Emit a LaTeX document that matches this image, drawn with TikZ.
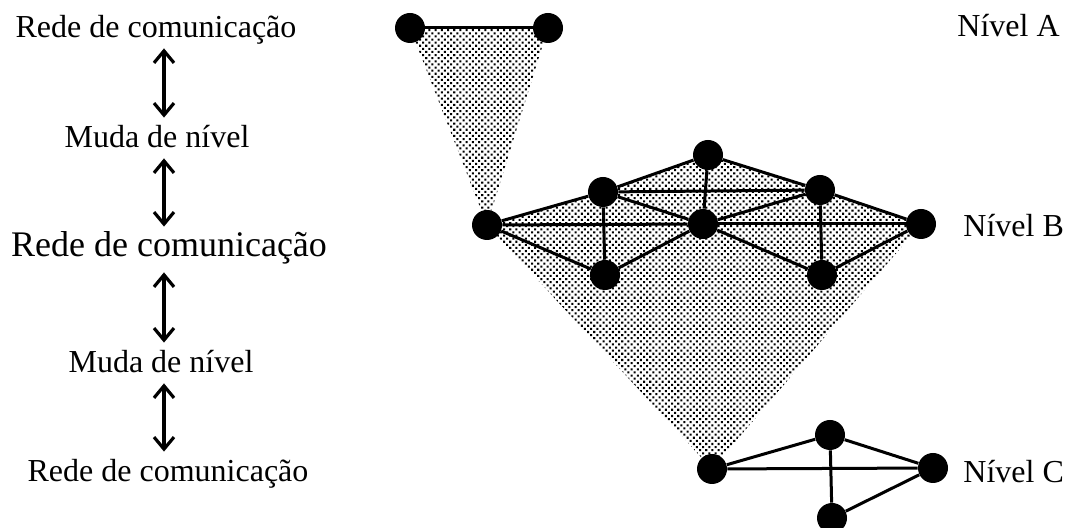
\documentclass[tikz,border=0pt]{standalone}
\usepackage{fontspec}
\setmainfont{Liberation Serif}
\usepackage{tikz}
\usetikzlibrary{arrows.meta,patterns.meta,backgrounds}

\begin{document}
\begin{tikzpicture}[x=0.5pt, y=-0.5pt,
    netnode/.style={circle, fill=black, inner sep=0pt, minimum size=15pt},
    link/.style={line width=1.5pt},
    lbl/.style={inner sep=0pt, text height=15pt, text depth=5pt, anchor=base, font=\fontsize{16}{19}\selectfont},
    lvl/.style={inner sep=0pt, anchor=base west, font=\fontsize{16}{19}\selectfont},
    updown/.style={line width=1.6pt, {Straight Barb[length=6pt,width=10pt]}-{Straight Barb[length=6pt,width=10pt]}},
    shade/.style={pattern={Dots[distance=2.2pt, radius=0.72pt, angle=45]}, pattern color=black}]
    \useasboundingbox (0,0) rectangle (1066,528);

    % Left column
    \node[lbl] (r1) at (156,38) {Rede de comunicação};
    \node[lbl] (m1) at (157,148) {Muda de nível};
    \node[lbl, text depth=7.5pt, font=\fontsize{18}{21}\selectfont] (r2) at (169,257) {Rede de comunicação};
    \node[lbl] (m2) at (161,373) {Muda de nível};
    \node[lbl] (r3) at (168,482) {Rede de comunicação};
    \coordinate (ax) at (164,0);

    \draw[updown] (r1.south -| ax) -- (m1.north -| ax);
    \draw[updown] (m1.south -| ax) -- (r2.north -| ax);
    \draw[updown] (r2.south -| ax) -- (m2.north -| ax);
    \draw[updown] (m2.south -| ax) -- (r3.north -| ax);

    % Level A
    \node[netnode] (a1) at (410,28) {};
    \node[netnode] (a2) at (548,28) {};

    % Level B
    \node[netnode] (b1) at (487,225) {};
    \node[netnode] (b2) at (603,192) {};
    \node[netnode] (b3) at (708,155) {};
    \node[netnode] (b4) at (703,224) {};
    \node[netnode] (b5) at (820,190) {};
    \node[netnode] (b6) at (921,224) {};
    \node[netnode] (b7) at (605,275) {};
    \node[netnode] (b8) at (822,275) {};

    % Level C
    \node[netnode] (c1) at (712,469) {};
    \node[netnode] (c2) at (830,435) {};
    \node[netnode] (c3) at (933,468) {};
    \node[netnode] (c4) at (832,518) {};

    % Level names
    \node[lvl] (na) at (957,37) {Nível A};
    \node[lvl] (nb) at (963,237) {Nível B};
    \node[lvl] (nc) at (963,483) {Nível C};

    % Shaded cones
    \begin{scope}[on background layer]
      \fill[shade] (a1.center) -- (a2.center) -- (b1.center) -- cycle;
      \fill[shade] (b1.center) -- (b2.center) -- (b3.center) -- (b5.center)
        -- (b6.center) -- (c1.center) -- cycle;
    \end{scope}

    % Links
    \draw[link] (a1) -- (a2);

    \draw[link] (b1) -- (b2);
    \draw[link] (b1) -- (b4);
    \draw[link] (b4) -- (b6);
    \draw[link] (b1) -- (b7);
    \draw[link] (b2) -- (b3);
    \draw[link] (b2) -- (b5);
    \draw[link] (b2) -- (b4);
    \draw[link] (b2) -- (b7);
    \draw[link] (b3) -- (b4);
    \draw[link] (b3) -- (b5);
    \draw[link] (b4) -- (b5);
    \draw[link] (b4) -- (b7);
    \draw[link] (b4) -- (b8);
    \draw[link] (b5) -- (b6);
    \draw[link] (b5) -- (b8);
    \draw[link] (b6) -- (b8);

    \draw[link] (c1) -- (c2);
    \draw[link] (c1) -- (c3);
    \draw[link] (c2) -- (c3);
    \draw[link] (c2) -- (c4);
    \draw[link] (c3) -- (c4);
\end{tikzpicture}
\end{document}
